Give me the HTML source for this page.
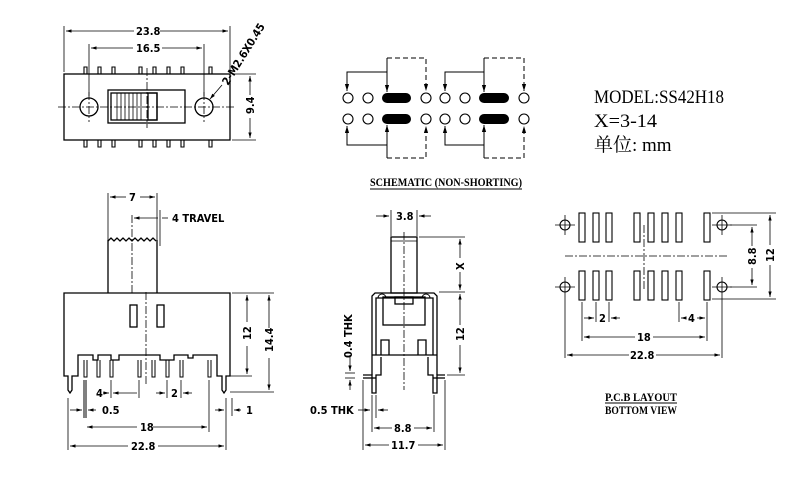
<!DOCTYPE html>
<html><head><meta charset="utf-8"><style>
html,body{margin:0;padding:0;background:#fff}
svg{display:block}
text{font-family:"DejaVu Sans Condensed","Liberation Sans",sans-serif;font-weight:bold;font-size:11px;fill:#000}
.m{font-family:"Liberation Serif","Noto Serif CJK SC",serif;font-weight:normal;font-size:19px}
</style></head><body>
<svg width="800" height="480" viewBox="0 0 800 480" xmlns="http://www.w3.org/2000/svg" fill="none" stroke="#000" stroke-width="1">
<defs>
<marker id="a" viewBox="0 0 10 10" refX="10" refY="5" markerWidth="7" markerHeight="7" orient="auto-start-reverse"><path d="M0,2 L10,5 L0,8z" fill="#000" stroke="none"/></marker>
</defs>

<!-- ===== Top-left view ===== -->
<g stroke-width="1.3">
<rect x="64" y="74" width="166" height="66"/>
<circle cx="89" cy="107" r="9"/><circle cx="204" cy="107" r="9"/>
<rect x="108" y="90" width="77" height="33"/>
<rect x="111" y="93" width="46" height="27"/>
<rect x="148" y="93" width="9" height="27"/>
</g>
<g stroke-width="0.8">
<line x1="117" y1="93" x2="117" y2="120"/><line x1="121" y1="93" x2="121" y2="120"/><line x1="125" y1="93" x2="125" y2="120"/><line x1="129" y1="93" x2="129" y2="120"/><line x1="133" y1="93" x2="133" y2="120"/><line x1="137" y1="93" x2="137" y2="120"/><line x1="141" y1="93" x2="141" y2="120"/>
</g>
<g stroke-width="1.1">
<path d="M84,74V67h3v7 M98,74V67h3v7 M112,74V67h3v7 M139,74V67h3v7 M153,74V67h3v7 M167,74V67h3v7 M181,74V67h3v7 M209,74V67h3v7"/>
<path d="M84,140v7h3v-7 M98,140v7h3v-7 M112,140v7h3v-7 M139,140v7h3v-7 M153,140v7h3v-7 M167,140v7h3v-7 M181,140v7h3v-7 M209,140v7h3v-7"/>
</g>
<g stroke-width="0.8" stroke-dasharray="8,2,2,2">
<line x1="58" y1="107" x2="235" y2="107"/><line x1="147" y1="68" x2="147" y2="128"/>
<line x1="89" y1="92" x2="89" y2="122"/><line x1="204" y1="92" x2="204" y2="122"/>
</g>
<g stroke-width="0.8">
<line x1="64" y1="26" x2="64" y2="72"/><line x1="230" y1="26" x2="230" y2="72"/>
<line x1="89" y1="44" x2="89" y2="96"/><line x1="204" y1="44" x2="204" y2="96"/>
<line x1="66" y1="31" x2="134" y2="31" marker-start="url(#a)"/><line x1="160" y1="31" x2="228" y2="31" marker-end="url(#a)"/>
<line x1="91" y1="48" x2="133" y2="48" marker-start="url(#a)"/><line x1="162" y1="48" x2="202" y2="48" marker-end="url(#a)"/>
<line x1="232" y1="74" x2="256" y2="74"/><line x1="232" y1="140" x2="256" y2="140"/>
<line x1="250" y1="76" x2="250" y2="95" marker-start="url(#a)"/><line x1="250" y1="118" x2="250" y2="138" marker-end="url(#a)"/>
<line x1="222" y1="85" x2="210" y2="99" marker-end="url(#a)"/>
</g>
<text x="136" y="35" stroke="none">23.8</text>
<text x="136" y="52" stroke="none">16.5</text>
<text transform="translate(254,114) rotate(-90)" stroke="none">9.4</text>
<text transform="translate(228,86) rotate(-58)" stroke="none">2-M2.6X0.45</text>

<!-- ===== Schematic ===== -->
<g stroke-width="1.1">
<circle cx="348" cy="98" r="5"/><circle cx="368" cy="98" r="5"/><circle cx="426" cy="98" r="5"/>
<circle cx="348" cy="119" r="5"/><circle cx="368" cy="119" r="5"/><circle cx="426" cy="119" r="5"/>
<circle cx="445" cy="98" r="5"/><circle cx="465" cy="98" r="5"/><circle cx="524" cy="98" r="5"/>
<circle cx="445" cy="119" r="5"/><circle cx="465" cy="119" r="5"/><circle cx="524" cy="119" r="5"/>
</g>
<g fill="#000" stroke="none">
<rect x="382" y="93" width="29" height="10" rx="5"/><rect x="382" y="114" width="29" height="10" rx="5"/>
<rect x="479" y="93" width="30" height="10" rx="5"/><rect x="479" y="114" width="30" height="10" rx="5"/>
</g>
<g stroke-width="1">
<path d="M387,72H347V91" marker-end="url(#a)"/><line x1="387" y1="58" x2="387" y2="92" marker-end="url(#a)"/>
<path d="M387,145H347V126" marker-end="url(#a)"/><line x1="387" y1="158" x2="387" y2="125" marker-end="url(#a)"/>
<path d="M484,72H445V91" marker-end="url(#a)"/><line x1="484" y1="58" x2="484" y2="92" marker-end="url(#a)"/>
<path d="M484,145H445V126" marker-end="url(#a)"/><line x1="484" y1="158" x2="484" y2="125" marker-end="url(#a)"/>
</g>
<g stroke-width="1" stroke-dasharray="5,3">
<path d="M387,58H426V91" marker-end="url(#a)"/><path d="M387,158H426V126" marker-end="url(#a)"/>
<path d="M484,58H524V91" marker-end="url(#a)"/><path d="M484,158H524V126" marker-end="url(#a)"/>
</g>
<text x="370" y="186" stroke="none" textLength="152" lengthAdjust="spacingAndGlyphs" style="font-family:'Liberation Serif',serif;font-size:12px">SCHEMATIC (NON-SHORTING)</text>
<line x1="370" y1="189" x2="522" y2="189"/>

<!-- Model text -->
<text class="m" x="594" y="103" stroke="none" textLength="130" lengthAdjust="spacingAndGlyphs">MODEL:SS42H18</text>
<text class="m" x="594" y="127" stroke="none" textLength="63" lengthAdjust="spacingAndGlyphs">X=3-14</text>
<text class="m" x="594" y="151" stroke="none">单位: mm</text>

<!-- ===== Bottom-left side view ===== -->
<g stroke-width="1.3">
<path d="M108,293V240 M157,293V240"/>
<path d="M108,241 l3,-3 3,3 3,-3 3,3 3,-3 3,3 3,-3 3,3 3,-3 3,3 3,-3 3,3 3,-3 3,3 3,-3 3,3"/>
<path d="M64,293H230V376H226V390l-2,3-2,-3V376H217V355H193V358H188V355H174V360H160V355H119V360H111V355H98V360H93V355H78V376H72V390l-2,3-2,-3V376H64Z"/>
<rect x="130" y="305" width="7" height="22"/><rect x="157" y="305" width="7" height="22"/>
</g>
<g stroke-width="1">
<path d="M84,360v17h3v-17 M97,360v17h3v-17 M110,360v17h3v-17 M138,360v17h3v-17 M152,360v17h3v-17 M166,360v17h3v-17 M180,360v17h3v-17 M208,360v17h3v-17"/>
<line x1="84" y1="380" x2="84" y2="418"/><line x1="86" y1="380" x2="86" y2="418"/>
</g>
<g stroke-width="0.8" stroke-dasharray="8,2,2,2"><line x1="146" y1="292" x2="146" y2="385"/><line x1="132" y1="215" x2="132" y2="293"/></g>
<g stroke-width="0.8">
<line x1="108" y1="193" x2="108" y2="240"/><line x1="157" y1="193" x2="157" y2="240"/>
<line x1="110" y1="197" x2="126" y2="197" marker-start="url(#a)"/><line x1="140" y1="197" x2="155" y2="197" marker-end="url(#a)"/>
<line x1="160" y1="210" x2="160" y2="246"/>
<line x1="134" y1="218" x2="158" y2="218" marker-start="url(#a)"/><line x1="162" y1="218" x2="168" y2="218"/>
<line x1="232" y1="293" x2="274" y2="293"/><line x1="230" y1="376" x2="252" y2="376"/><line x1="230" y1="392" x2="274" y2="392"/>
<line x1="247" y1="295" x2="247" y2="322" marker-start="url(#a)"/><line x1="247" y1="346" x2="247" y2="374" marker-end="url(#a)"/>
<line x1="269" y1="295" x2="269" y2="328" marker-start="url(#a)"/><line x1="269" y1="358" x2="269" y2="390" marker-end="url(#a)"/>
<line x1="111" y1="380" x2="111" y2="398"/><line x1="139" y1="380" x2="139" y2="398"/><line x1="167" y1="380" x2="167" y2="398"/><line x1="181" y1="380" x2="181" y2="398"/>
<line x1="103" y1="393" x2="109" y2="393" marker-end="url(#a)"/><line x1="113" y1="393" x2="137" y2="393" marker-start="url(#a)"/>
<line x1="156" y1="393" x2="165" y2="393" marker-end="url(#a)"/><line x1="183" y1="393" x2="192" y2="393" marker-start="url(#a)"/>
<line x1="68" y1="398" x2="68" y2="450"/><line x1="226" y1="398" x2="226" y2="450"/><line x1="209" y1="380" x2="209" y2="432"/><line x1="232" y1="398" x2="232" y2="416"/>
<line x1="70" y1="410" x2="82" y2="410" marker-end="url(#a)"/><line x1="88" y1="410" x2="96" y2="410" marker-start="url(#a)"/>
<line x1="215" y1="410" x2="224" y2="410" marker-end="url(#a)"/><line x1="234" y1="410" x2="241" y2="410" marker-start="url(#a)"/>
<line x1="87" y1="427" x2="137" y2="427" marker-start="url(#a)"/><line x1="153" y1="427" x2="207" y2="427" marker-end="url(#a)"/>
<line x1="70" y1="446" x2="128" y2="446" marker-start="url(#a)"/><line x1="158" y1="446" x2="224" y2="446" marker-end="url(#a)"/>
</g>
<text x="129" y="201" stroke="none">7</text>
<text x="172" y="222" stroke="none">4  TRAVEL</text>
<text transform="translate(251,340) rotate(-90)" stroke="none">12</text>
<text transform="translate(273,352) rotate(-90)" stroke="none">14.4</text>
<text x="96" y="397" stroke="none">4</text>
<text x="171" y="397" stroke="none">2</text>
<text x="102" y="414" stroke="none">0.5</text>
<text x="246" y="414" stroke="none">1</text>
<text x="140" y="431" stroke="none">18</text>
<text x="131" y="450" stroke="none">22.8</text>

<!-- ===== Middle end view ===== -->
<g stroke-width="1.3">
<rect x="391" y="237" width="26" height="56"/>
<line x1="391" y1="241" x2="417" y2="241" stroke-width="0.8"/>
<path d="M372,375V296l3,-3H434l3,3V375 M376,355V298H433V355 M372,355H437"/>
<rect x="383" y="297" width="42" height="28"/>
<rect x="395" y="297" width="18" height="7"/>
<path d="M381,355V340h8v15 M418,355V340h8v15"/>
<path d="M363,375H372V393h4V375h5V357 M445,375H437V393h-4V375h-5V357"/>
<line x1="376" y1="378" x2="363" y2="378"/><line x1="433" y1="378" x2="445" y2="378"/>
<path d="M378,298a4,4 0 0 1 8,0 M422,298a4,4 0 0 1 8,0" stroke-width="1"/>
</g>
<g stroke-width="0.8" stroke-dasharray="8,2,2,2"><line x1="404" y1="232" x2="404" y2="390"/></g>
<g stroke-width="0.8">
<line x1="391" y1="210" x2="391" y2="236"/><line x1="417" y1="210" x2="417" y2="236"/>
<line x1="376" y1="216" x2="389" y2="216" marker-end="url(#a)"/><line x1="419" y1="216" x2="431" y2="216" marker-start="url(#a)"/>
<line x1="419" y1="237" x2="465" y2="237"/><line x1="439" y1="292" x2="465" y2="292"/><line x1="447" y1="375" x2="465" y2="375"/>
<line x1="460" y1="239" x2="460" y2="258" marker-start="url(#a)"/><line x1="460" y1="272" x2="460" y2="290" marker-end="url(#a)"/>
<line x1="460" y1="294" x2="460" y2="325" marker-start="url(#a)"/><line x1="460" y1="345" x2="460" y2="373" marker-end="url(#a)"/>
<line x1="345" y1="373" x2="355" y2="373"/><line x1="345" y1="378" x2="355" y2="378"/>
<line x1="350" y1="355" x2="350" y2="371" marker-end="url(#a)"/><line x1="350" y1="390" x2="350" y2="380" marker-end="url(#a)"/>
<line x1="372" y1="395" x2="372" y2="432"/><line x1="376" y1="395" x2="376" y2="418"/><line x1="434" y1="395" x2="434" y2="432"/>
<line x1="363" y1="380" x2="363" y2="450"/><line x1="445" y1="380" x2="445" y2="450"/>
<line x1="358" y1="410" x2="370" y2="410" marker-end="url(#a)"/><line x1="378" y1="410" x2="388" y2="410" marker-start="url(#a)"/>
<line x1="374" y1="428" x2="392" y2="428" marker-start="url(#a)"/><line x1="414" y1="428" x2="432" y2="428" marker-end="url(#a)"/>
<line x1="365" y1="445" x2="389" y2="445" marker-start="url(#a)"/><line x1="418" y1="445" x2="443" y2="445" marker-end="url(#a)"/>
</g>
<text x="396" y="220" stroke="none">3.8</text>
<text transform="translate(464,270) rotate(-90)" stroke="none">X</text>
<text transform="translate(464,341) rotate(-90)" stroke="none">12</text>
<text transform="translate(352,358) rotate(-90)" stroke="none">0.4  THK</text>
<text x="310" y="414" stroke="none">0.5  THK</text>
<text x="394" y="432" stroke="none">8.8</text>
<text x="391" y="449" stroke="none">11.7</text>

<!-- ===== PCB layout ===== -->
<g stroke-width="1.1">
<rect x="579" y="213" width="6" height="29"/><rect x="593" y="213" width="6" height="29"/><rect x="606" y="213" width="6" height="29"/>
<rect x="634" y="213" width="6" height="29"/><rect x="648" y="213" width="6" height="29"/><rect x="662" y="213" width="6" height="29"/><rect x="676" y="213" width="6" height="29"/><rect x="704" y="213" width="6" height="29"/>
<rect x="579" y="271" width="6" height="29"/><rect x="593" y="271" width="6" height="29"/><rect x="606" y="271" width="6" height="29"/>
<rect x="634" y="271" width="6" height="29"/><rect x="648" y="271" width="6" height="29"/><rect x="662" y="271" width="6" height="29"/><rect x="676" y="271" width="6" height="29"/><rect x="704" y="271" width="6" height="29"/>
<circle cx="565" cy="225" r="5"/><circle cx="722" cy="225" r="5"/><circle cx="565" cy="287" r="5"/><circle cx="722" cy="287" r="5"/>
</g>
<g stroke-width="0.8">
<path d="M555,225h20M565,215v20M555,287h20M565,277v20M712,225h20M722,215v20M712,287h20M722,277v20"/>
</g>
<g stroke-width="0.8" stroke-dasharray="8,2,2,2"><line x1="565" y1="256" x2="727" y2="256"/><line x1="644" y1="225" x2="644" y2="290"/></g>
<g stroke-width="0.8">
<line x1="712" y1="213" x2="776" y2="213"/><line x1="712" y1="299" x2="776" y2="299"/>
<line x1="730" y1="225" x2="757" y2="225"/><line x1="730" y1="287" x2="757" y2="287"/>
<line x1="752" y1="227" x2="752" y2="246" marker-start="url(#a)"/><line x1="752" y1="268" x2="752" y2="285" marker-end="url(#a)"/>
<line x1="770" y1="215" x2="770" y2="245" marker-start="url(#a)"/><line x1="770" y1="265" x2="770" y2="297" marker-end="url(#a)"/>
<line x1="582" y1="302" x2="582" y2="341"/><line x1="596" y1="302" x2="596" y2="322"/><line x1="609" y1="302" x2="609" y2="322"/>
<line x1="679" y1="302" x2="679" y2="322"/><line x1="707" y1="302" x2="707" y2="341"/>
<line x1="565" y1="297" x2="565" y2="358"/><line x1="722" y1="297" x2="722" y2="358"/>
<line x1="584" y1="318" x2="594" y2="318" marker-end="url(#a)"/><line x1="611" y1="318" x2="620" y2="318" marker-start="url(#a)"/>
<line x1="681" y1="318" x2="686" y2="318" marker-start="url(#a)"/><line x1="697" y1="318" x2="705" y2="318" marker-end="url(#a)"/>
<line x1="584" y1="337" x2="635" y2="337" marker-start="url(#a)"/><line x1="653" y1="337" x2="705" y2="337" marker-end="url(#a)"/>
<line x1="567" y1="355" x2="629" y2="355" marker-start="url(#a)"/><line x1="656" y1="355" x2="720" y2="355" marker-end="url(#a)"/>
</g>
<text x="599" y="322" stroke="none">2</text>
<text x="688" y="322" stroke="none">4</text>
<text x="637" y="341" stroke="none">18</text>
<text x="630" y="359" stroke="none">22.8</text>
<text transform="translate(756,265) rotate(-90)" stroke="none">8.8</text>
<text transform="translate(774,262) rotate(-90)" stroke="none">12</text>
<text x="605" y="401" stroke="none" textLength="72" lengthAdjust="spacingAndGlyphs" style="font-family:'Liberation Serif',serif;font-size:11.5px">P.C.B LAYOUT</text>
<line x1="605" y1="403" x2="677" y2="403"/>
<text x="605" y="414" stroke="none" textLength="72" lengthAdjust="spacingAndGlyphs" style="font-family:'Liberation Serif',serif;font-size:11.5px">BOTTOM VIEW</text>
</svg>
</body></html>
